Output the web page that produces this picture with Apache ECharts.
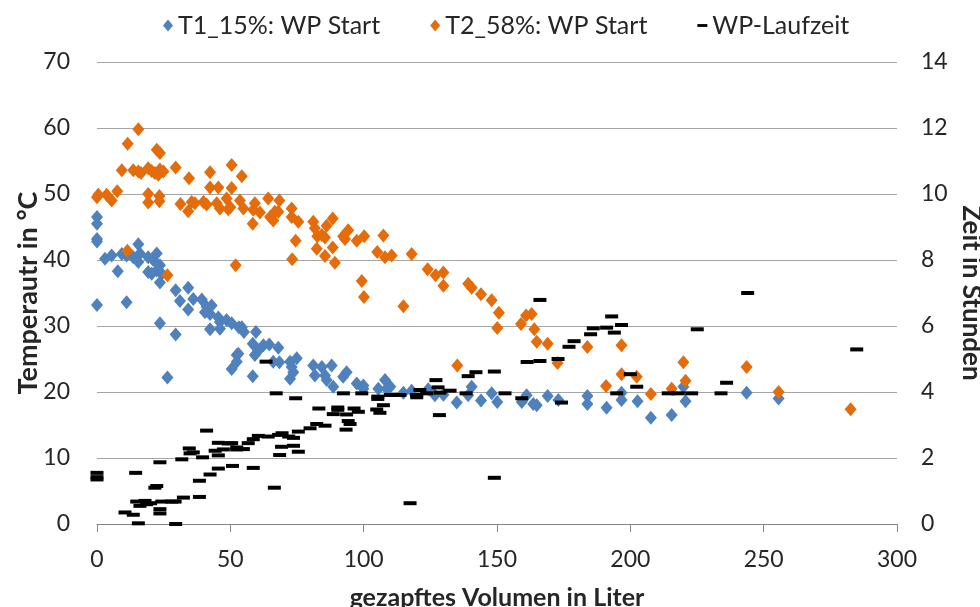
<!DOCTYPE html>
<html>
<head>
<meta charset="utf-8" />
<title></title>
<script src="https://cdn.jsdelivr.net/npm/echarts@6/dist/echarts.min.js"></script>
<style>
  html, body { margin: 0; width: 100%; height: 100%; background: #fff; }
</style>
</head>
<body>
<div id="container" style="width: 980px; height: 607px"></div>
<script>
// T1_15%: WP Start  [Volumen, Temperatur]
var t1Start = [
  [0,46.5],[0,45.5],[0,43.2],[0,42.8],[0,33.2],
  [3,40.2],[5.5,40.7],[7.8,38.3],[9.3,40.9],[11.1,40.7],[11.1,33.6],[13.6,40.4],
  [15.5,42.4],[15.5,39.7],[16.1,41],[19.2,40.4],[19.2,38.2],[20.5,37.9],[21.1,40],
  [22.4,41],[22.4,38.4],[23.6,39.2],[24.3,37.9],[23.6,36.6],[23.6,30.4],[26.4,22.2],
  [29.5,35.4],[29.5,28.7],[31.1,33.8],[34.2,35.8],[34.2,32.5],[36.1,34.1],[39.3,34],
  [40.5,32.1],[41.1,32.9],[42.4,31.8],[42.4,29.5],[43,33.1],[45.5,31.3],[46.1,30.6],
  [46.1,29.6],[48.6,30.9],[50.5,30.4],[50.5,23.5],[52.4,25.6],[52.4,24.6],[53.2,29.8],
  [53,25.8],[54.3,29.8],[55.1,29.1],[58.4,27.3],[58.4,22.4],[59.2,25.6],[59.6,29.1],
  [60.5,26.3],[62.4,27.1],[64.6,27.2],[66.1,24.6],[68,26.7],[68.4,24.5],[72.4,24.6],
  [72.4,22],[73,23.8],[73.6,23],[74.9,25.1],[81.1,24],[81.7,22.5],[84.3,23.8],
  [85.5,22.5],[86.1,21.8],[88,24],[88.6,20.8],[92.3,22.3],[93.6,23],[97.4,21.3],
  [99.9,21],[99.9,20.5],[105.5,20.5],[108,21.8],[108.6,20.5],[110,20.8],[114.9,19.9],
  [118,20.2],[124.2,20.4],[126.7,19.5],[129.9,19.6],[134.9,18.4],[139.2,19.5],
  [140.5,20.8],[144,18.7],[148,19.8],[150.1,18.5],[159.3,18.5],[161.1,19.5],
  [163.6,18.2],[164.9,18],[169,19.4],[173,18.8],[183.9,19.4],[183.9,18.2],[191.1,17.6],
  [196.7,19.9],[196.7,18.8],[202.7,18.6],[207.7,16.1],[215.5,16.5],[219.9,20.8],
  [220.7,18.6],[243.6,19.9],[255.6,19]
];

// T2_58%: WP Start  [Volumen, Temperatur]
var t2Start = [
  [0,49.5],[0.5,49.9],[3.6,49.9],[5.5,49],[7.6,50.4],[9.3,53.6],[11.5,57.6],[11.4,41.4],
  [13.6,53.6],[15.5,59.8],[15.5,53.4],[16.5,53.2],[19.2,53.9],[19.2,50],[19.2,48.7],
  [20.5,53.5],[21.7,53.2],[22.4,56.7],[23,52.9],[23.4,49.7],[23.4,48.9],[23.6,56.2],
  [23.6,53.7],[24.9,53.4],[26.4,37.7],[29.5,54],[31.3,48.5],[34.2,47.4],[34.5,52.4],
  [35.5,48.8],[36.7,48.6],[39.9,48.8],[41.1,48.4],[42.4,53.3],[42.4,51],[44.9,48.6],
  [45.5,51],[46.1,47.8],[48.6,49.3],[49.2,47.7],[50.5,54.4],[50.5,50.9],[50,48],
  [52,39.2],[53.6,49],[54.3,52.7],[54.9,47.8],[58.4,45.5],[58.6,47.6],[59.2,48.6],
  [61.1,47.2],[64.2,49.3],[64.9,46.5],[66.1,46],[66.7,47.3],[68,47.3],[68.4,49],
  [73,47.8],[73,46.5],[73.2,40.1],[74.5,42.9],[75.5,45.8],[81.1,45.8],[81.7,44.8],
  [82.4,41.7],[82.6,43.6],[84.3,43.8],[85.5,43.4],[85.5,40.6],[86.1,45.2],[88.4,46.3],
  [88.4,41.9],[89.2,39.6],[92.3,43.6],[93,43.2],[94.2,44.5],[97.4,42.9],[99.3,36.8],
  [100.1,34.4],[100.2,43.6],[105.1,41.2],[107.4,43.7],[108,40.4],[110.5,40.7],
  [114.9,33],[118,40.9],[124,38.6],[127,37.7],[129.9,38.1],[129.9,36.1],[135.1,24],
  [139.2,36.4],[140.5,35.8],[144,34.8],[148,33.9],[150.1,29.7],[150.7,32],[159,30.3],
  [160.9,31.6],[163,31.8],[164,29.5],[164.9,27.6],[169,27.3],[172.7,24.4],[183.9,26.8],
  [190.9,20.9],[196.7,27.1],[196.7,22.7],[202.4,22.3],[207.7,19.7],[215.5,20.5],
  [219.9,24.5],[220.7,21.7],[243.6,23.8],[255.6,20],[282.6,17.4]
];

// WP-Laufzeit  [Volumen, Stunden]
var wpLaufzeit = [
  [0,1.55],[0,1.42],[0,1.35],[10.5,0.35],[13.6,0.28],[14.5,1.55],[14.9,0.68],[15.5,0.02],
  [16.1,0.55],[18,0.7],[18.6,0.6],[20.1,0.63],[21.7,1.1],[22.4,1.15],[23.6,1.87],
  [23.6,0.45],[23.6,0.32],[24.3,0.68],[28,0.68],[29.3,0.68],[29.5,0],[31.8,1.96],
  [32.4,0.8],[34.6,2.29],[34.9,2.14],[36.1,2.17],[38.4,1.31],[38.4,0.82],[39.6,2.02],
  [41.1,2.83],[42.4,1.5],[44.3,2.22],[45.5,2.46],[45.5,2.08],[45.5,1.68],[47.4,2.26],
  [49.2,2.44],[50.5,2.45],[50.8,1.76],[52.4,2.26],[52.4,2.32],[54.9,2.27],[56.7,2.45],
  [58.6,2.57],[58.6,1.7],[60.5,2.67],[63.4,4.92],[64.2,2.65],[66.5,1.1],[67.2,3.96],
  [68.1,2.7],[68.5,2.09],[69.2,2.34],[69.4,2.75],[71.9,2.65],[73.7,2.61],[73.7,2.37],
  [74.5,3.81],[75.5,2.8],[75.5,2.19],[79.9,2.9],[82.4,3.03],[83.2,3.5],[85.5,2.98],
  [88.6,3.33],[90.3,3.53],[90.3,3.46],[92.4,3.96],[93.4,2.86],[93.6,3.32],[94.2,3.12],
  [94.9,3.03],[96.4,3.5],[98,3.4],[99.3,3.96],[104.9,3.47],[105.3,3.86],[105.3,3.79],
  [106.1,3.37],[107.4,3.6],[110,3.91],[113.6,3.91],[117.4,0.63],[119.9,3.91],
  [119.9,3.84],[121.1,4.06],[123.6,3.96],[127.1,4.36],[127.9,4.14],[128.4,3.3],
  [128.6,3.98],[132.4,4.04],[138.4,3.96],[139.2,4.48],[142.1,4.6],[149,4.62],[149,1.4],
  [153,3.96],[159.3,3.81],[161.3,4.91],[166.1,4.94],[166.1,6.79],[172.9,5],[174.2,3.68],
  [177,5.37],[178.9,5.54],[185.1,5.75],[186.1,5.93],[191.1,5.95],[193,6.29],[194,5.8],
  [194.9,3.96],[196.7,6.03],[200,4.54],[202.4,4.16],[214.2,3.96],[218,3.96],[223,3.96],
  [225.1,5.9],[234,3.96],[236.1,4.28],[244,7.0],[284.9,5.29]
];

var seriesNames = ['T1_15%: WP Start', 'T2_58%: WP Start', 'WP-Laufzeit'];
var tempTicks = { min: 0, max: 70, interval: 10 };
var timeTicks = { min: 0, max: 14, interval: 2 };
var volTicks = { min: 0, max: 300, interval: 50 };

var FONT = 'Lato';
var TXT = '#262626';
var dashPath = 'path://M0,0H14V4H0Z';

var myChart = echarts.init(document.getElementById('container'));
var option = {
  animation: false,
  textStyle: { fontFamily: FONT },
  legend: {
    top: 8,
    left: 158,
    itemGap: 50,
    itemWidth: 10,
    itemHeight: 12,
    textStyle: { fontSize: 25, color: TXT, fontFamily: FONT },
    data: [
      { name: seriesNames[0], icon: 'diamond' },
      { name: seriesNames[1], icon: 'diamond' },
      { name: seriesNames[2], icon: dashPath }
    ]
  },
  grid: { left: 97, right: 83, top: 62, bottom: 83, outerBoundsMode: 'none', containLabel: false },
  xAxis: {
    type: 'value',
    min: volTicks.min, max: volTicks.max, interval: volTicks.interval,
    name: 'gezapftes Volumen in Liter',
    nameLocation: 'middle',
    nameGap: 61,
    nameTextStyle: { fontSize: 25, fontWeight: 'bold', color: TXT, fontFamily: FONT },
    axisLine: { show: true, lineStyle: { color: '#868686' } },
    axisTick: { show: true, inside: false, length: 8, lineStyle: { color: '#868686' } },
    axisLabel: { fontSize: 23, color: TXT, margin: 24 },
    splitLine: { show: false }
  },
  yAxis: [{
    type: 'value',
    min: tempTicks.min, max: tempTicks.max, interval: tempTicks.interval,
    name: 'Temperautr in °C',
    nameLocation: 'middle',
    nameGap: 55,
    nameMoveOverlap: false,
    nameTextStyle: { fontSize: 27, fontWeight: 'bold', color: TXT, fontFamily: FONT },
    axisLine: { show: false },
    axisTick: { show: false },
    axisLabel: { fontSize: 23, color: TXT, margin: 27 },
    splitLine: { show: true, lineStyle: { color: '#a6a6a6', width: 1 } }
  }, {
    type: 'value',
    position: 'right',
    min: timeTicks.min, max: timeTicks.max, interval: timeTicks.interval,
    name: 'Zeit in Stunden',
    nameLocation: 'middle',
    nameGap: 45,
    nameRotate: -90,
    nameTextStyle: { fontSize: 26, fontWeight: 'bold', color: TXT, fontFamily: FONT },
    axisLine: { show: false },
    axisTick: { show: false },
    axisLabel: { fontSize: 23, color: TXT, margin: 24 },
    splitLine: { show: false }
  }],
  series: [{
    name: seriesNames[0],
    type: 'scatter',
    symbol: 'diamond',
    symbolSize: [12, 14],
    itemStyle: { color: '#4f81bd', opacity: 1 },
    data: t1Start
  }, {
    name: seriesNames[1],
    type: 'scatter',
    symbol: 'diamond',
    symbolSize: [12, 14],
    itemStyle: { color: '#e46c0a', opacity: 1 },
    data: t2Start
  }, {
    name: seriesNames[2],
    type: 'scatter',
    yAxisIndex: 1,
    symbol: 'rect',
    symbolSize: [13, 4],
    itemStyle: { color: '#000', opacity: 1 },
    data: wpLaufzeit
  }]
};
myChart.setOption(option);
</script>
</body>
</html>
